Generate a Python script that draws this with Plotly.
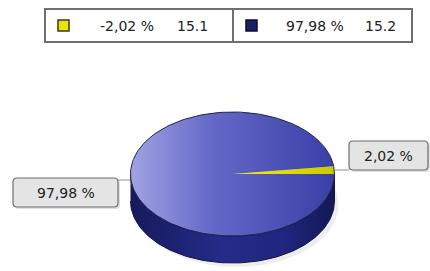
import numpy as np
import plotly.graph_objects as go

# ---- data ----
slice_values = [2.02, 97.98]
slice_labels = ["2,02 %", "97,98 %"]
legend_pct = ["-2,02 %", "97,98 %"]
legend_num = ["15.1", "15.2"]
slice_colors = ["#e6e600", "#1a1f66"]

W, H = 430, 271
cx, cy, rx, ry, depth = 232.5, 174, 102, 62, 27
FONT = "DejaVu Sans"

fig = go.Figure()

def ell(t, yoff=0):
    return cx + rx * np.cos(t), cy + yoff - ry * np.sin(t)

# shadow
ts = np.linspace(0, 2 * np.pi, 200)
sx, sy = ell(ts, depth + 4)
fig.add_trace(go.Scatter(x=sx + 4, y=sy, fill="toself", mode="lines",
                         line=dict(width=0), fillcolor="rgba(0,0,0,0.07)",
                         hoverinfo="skip", showlegend=False))

# side (front half)
tf = np.linspace(np.pi, 2 * np.pi, 120)
tx, ty = ell(tf)
bx, by = ell(tf[::-1], depth)
fig.add_trace(go.Scatter(x=np.r_[tx, bx], y=np.r_[ty, by], fill="toself", mode="lines",
                         line=dict(color="#10133f", width=1),
                         fillgradient=dict(type="horizontal",
                                           colorscale=[[0, "#161a5c"], [0.45, "#242b8a"],
                                                       [0.75, "#20267e"], [1, "#141855"]]),
                         hoverinfo="skip", showlegend=False))

# top slices
total = sum(slice_values)
start = 0.0
grads = [
    [[0, "#f4f400"], [1, "#c8c800"]],
    [[0, "#a0a3e3"], [0.4, "#6468c8"], [1, "#3a3fa6"]],
]
for v, g in zip(slice_values, grads):
    a0 = start / total * 2 * np.pi
    a1 = (start + v) / total * 2 * np.pi
    tt = np.linspace(a0, a1, max(4, int(300 * v / total)))
    ex, ey = ell(tt)
    fig.add_trace(go.Scatter(x=np.r_[cx, ex, cx], y=np.r_[cy, ey, cy], fill="toself",
                             mode="lines", line=dict(width=0),
                             fillgradient=dict(type="horizontal", colorscale=g),
                             hoverinfo="skip", showlegend=False))
    start += v

# top outline
ox, oy = ell(ts)
fig.add_trace(go.Scatter(x=ox, y=oy, mode="lines", line=dict(color="#20234a", width=1),
                         hoverinfo="skip", showlegend=False))

shapes = []
annotations = []

def rbox(x0, y0, x1, y1, r=4):
    return (f"M {x0+r},{y0} L {x1-r},{y0} Q {x1},{y0} {x1},{y0+r} L {x1},{y1-r} "
            f"Q {x1},{y1} {x1-r},{y1} L {x0+r},{y1} Q {x0},{y1} {x0},{y1-r} "
            f"L {x0},{y0+r} Q {x0},{y0} {x0+r},{y0} Z")

boxes = [(349, 141, 428, 170), (13, 178, 118, 207)]
leaders = [((334, 170), (349, 170)), ((130, 180), (118, 180))]
for lab, b, ld in zip(slice_labels, boxes, leaders):
    fig.add_trace(go.Scatter(x=[ld[0][0], ld[1][0]], y=[ld[0][1], ld[1][1]], mode="lines",
                             line=dict(color="#8a8aa8", width=1),
                             hoverinfo="skip", showlegend=False))
    shapes.append(dict(type="path", path=rbox(b[0] + 2, b[1] + 2, b[2] + 2, b[3] + 2),
                       fillcolor="rgba(0,0,0,0.12)", line=dict(width=0), layer="above"))
    shapes.append(dict(type="path", path=rbox(*b), fillcolor="#e4e4e4",
                       line=dict(color="#6e6e6e", width=1.2), layer="above"))
    annotations.append(dict(x=(b[0] + b[2]) / 2, y=(b[1] + b[3]) / 2, text=lab,
                            showarrow=False, font=dict(size=14, color="#222", family=FONT)))

# legend
lx0, lx1, ly0, ly1 = 45, 412, 9, 42
shapes.append(dict(type="rect", x0=lx0, x1=lx1, y0=ly0, y1=ly1, fillcolor="white",
                   line=dict(color="#707070", width=2), layer="above"))
mid = 233
shapes.append(dict(type="line", x0=mid, x1=mid, y0=ly0, y1=ly1,
                   line=dict(color="#707070", width=2), layer="above"))
cell_x = [lx0, mid]
for i, (p, n, c) in enumerate(zip(legend_pct, legend_num, slice_colors)):
    x = cell_x[i]
    shapes.append(dict(type="rect", x0=x + 13, x1=x + 24, y0=20, y1=31, fillcolor=c,
                       line=dict(color="#3a3a20" if i == 0 else "#0c0c30", width=1.5),
                       layer="above"))
    annotations.append(dict(x=x + 82, y=25.5, text=p, showarrow=False, xanchor="center",
                            font=dict(size=14, color="#222", family=FONT)))
    annotations.append(dict(x=x + 147, y=25.5, text=n, showarrow=False, xanchor="center",
                            font=dict(size=14, color="#222", family=FONT)))

fig.update_layout(
    width=W, height=H, margin=dict(l=0, r=0, t=0, b=0),
    paper_bgcolor="white", plot_bgcolor="white",
    xaxis=dict(range=[0, W], visible=False, fixedrange=True),
    yaxis=dict(range=[H, 0], visible=False, fixedrange=True),
    shapes=shapes, annotations=annotations, showlegend=False,
    hovermode=False,
)
fig.write_html("out.html", config={"displayModeBar": False, "staticPlot": True},
               post_script="document.body.style.margin='0px';document.body.style.overflow='hidden';")
